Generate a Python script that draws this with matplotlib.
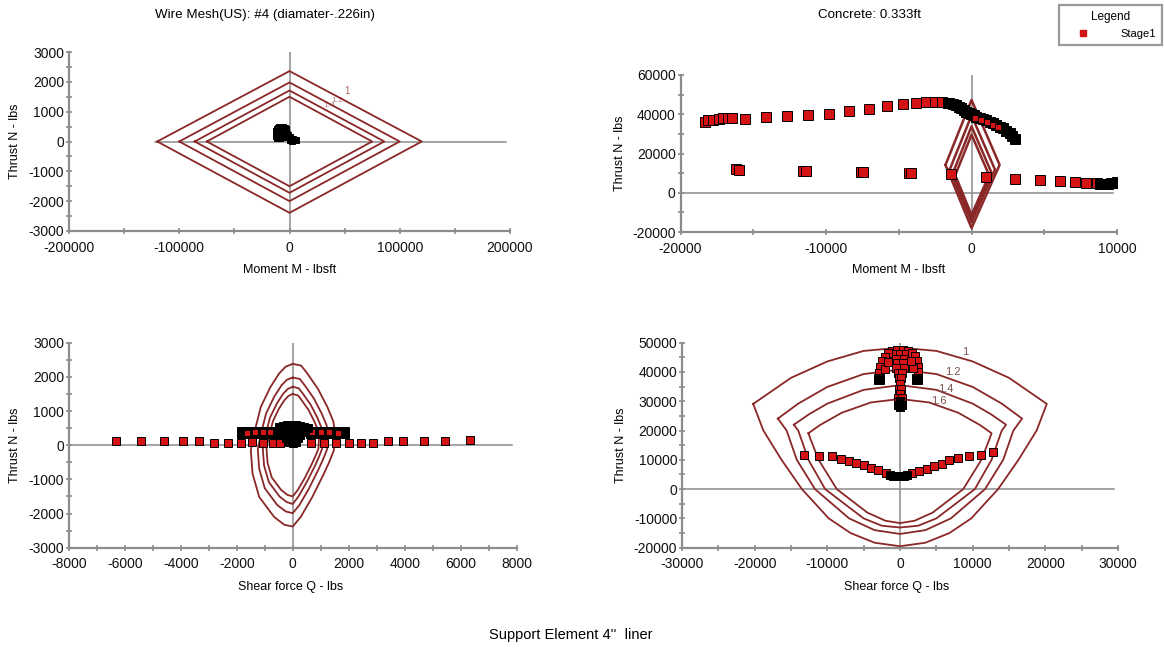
import matplotlib

matplotlib.use("Agg")
import matplotlib.pyplot as plt
from matplotlib.lines import Line2D
from matplotlib.ticker import MultipleLocator

plt.rcParams["font.family"] = ["Liberation Sans", "DejaVu Sans"]
plt.rcParams["axes.unicode_minus"] = False

W, H = 1164, 650
RED = "#d41414"
CURVE = "#8a2727"
AXIS = "#8c8c8c"

# --- wire mesh: moment vs thrust (diamonds for FS 1, 1.2, 1.4, 1.6) ---
wm_fs = ["1", "1.2", "1.4", "1.6"]
wm_m_ext = [120000, 100000, 86000, 75000]
wm_n_top = [2360, 1980, 1710, 1500]
wm_n_bot = [-2390, -2000, -1720, -1500]
wm_pts_m = [-12500, -11500, -10500, -9500, -8500, -7500, -6500, -5500, -4500, -3500,
            -12000, -10000, -8000, -6000, -4000, -2000, -1000, 0, 1500, 3000, 4500, 6000,
            -11000, -9000, -7000, -5000, -3000, -1500, 500, 2500]
wm_pts_n = [350, 420, 460, 480, 500, 500, 480, 470, 450, 420,
            200, 250, 300, 320, 300, 260, 220, 150, 100, 80, 60, 40,
            120, 130, 160, 180, 200, 150, 60, 30]

# --- concrete: moment vs thrust ---
conc_m_left = [-1790, -1500, -1280, -1120]
conc_m_right = [1930, 1610, 1380, 1210]
conc_n_vert = [14200, 11800, 10100, 8900]
conc_n_top = [47300, 39400, 33800, 29600]
conc_n_bot = [-18000, -15000, -12900, -11300]
cu_m = [-18340, -18110, -17775, -17390, -17080, -16750, -16445, -15550, -14140, -12690,
        -11230, -9800, -8410, -7030, -5800, -4730, -3840, -3150, -2510, -2000, -1610]
cu_n = [36140, 36820, 37160, 37670, 37840, 37840, 38010, 37670, 38350, 38860,
        39540, 40050, 41420, 42610, 43980, 45000, 45850, 46020, 46020, 46020, 45680]
cb_m = [-1520, -1300, -1060, -880, -710, -540, -370, -200, -20, 150, 320, 550,
        780, 1010, 1240, 1470, 1700, 1930, 2160, 2390, 2620, 2800, 2970]
cb_n = [45900, 45400, 44750, 43900, 43050, 42200, 41350, 40700, 40000, 39400, 38800, 38100,
        37450, 36850, 36250, 35400, 34550, 33700, 32900, 31700, 30350, 28800, 27300]
cr_m = [250, 650, 1050, 1450, 1850]
cr_n = [37900, 36900, 35900, 34700, 33300]
cl_m = [-16190, -16000, -11590, -11400, -7620, -7430, -4300, -4150, -1430,
        1020, 3000, 4710, 6060, 7080, 7850, 8620]
cl_n = [12100, 11800, 11250, 11250, 10740, 10740, 10060, 9900, 9540,
        8180, 6990, 6480, 5800, 5450, 4940, 4770]
ce_m = [8800, 9000, 9200, 9400, 9600, 9800, 10000]
ce_n = [4500, 4550, 4600, 4700, 4850, 5000, 5300]

# --- wire mesh: shear vs thrust ---
q1 = [0, 300, 520, 900, 1235, 1450, 1500, 1470, 1300, 1116, 700, 285, 0,
      -300, -665, -1200, -1437, -1500, -1354, -1140, -800, -487, -250, 0]
n1 = [2380, 2330, 2100, 1650, 1124, 700, 440, -150, -500, -830, -1515, -2100, -2380,
      -2330, -2100, -1515, -830, -150, 440, 1124, 1700, 2100, 2300, 2380]
q2 = [0, 250, 430, 750, 1030, 1210, 1250, 1225, 1085, 930, 585, 240, 0,
      -250, -555, -1000, -1200, -1250, -1130, -950, -665, -405, -210, 0]
n2 = [1980, 1940, 1750, 1375, 935, 585, 365, -125, -415, -690, -1260, -1750, -1990,
      -1940, -1750, -1260, -690, -125, 365, 935, 1415, 1750, 1915, 1980]
q3 = [0, 215, 370, 645, 880, 1035, 1070, 1050, 930, 800, 500, 205, 0,
      -215, -475, -855, -1025, -1070, -965, -815, -570, -350, -180, 0]
n3 = [1710, 1665, 1500, 1180, 805, 500, 315, -105, -355, -595, -1080, -1500, -1720,
      -1665, -1500, -1080, -595, -105, 315, 805, 1215, 1500, 1645, 1710]
q4 = [0, 190, 325, 565, 770, 905, 940, 920, 815, 700, 440, 180, 0,
      -190, -415, -750, -900, -940, -845, -710, -500, -305, -155, 0]
n4 = [1500, 1455, 1310, 1030, 700, 440, 275, -95, -310, -520, -945, -1310, -1500,
      -1455, -1310, -945, -520, -95, 275, 700, 1060, 1310, 1440, 1500]
sq_q = [-6330, -5410, -4610, -3940, -3350, -2800, -2330, -1850, -1450, -1080, -710, -470,
        640, 1130, 1560, 2010, 2450, 2880, 3400, 3950, 4690, 5460, 6340]
sq_n = [127, 127, 120, 127, 127, 68, 68, 78, 88, 68, 68, 68,
        68, 68, 78, 78, 68, 68, 127, 127, 127, 127, 147]
sb_q = [-1850, -1700, -1550, -1400, -1250, -1100, -950, -800, -650, -500, -350, -200, -50,
        100, 250, 400, 550, 700, 850, 1000, 1150, 1300, 1450, 1600, 1750, 1880,
        -1850, -1600, -1350, -1100, -850, -600, 600, 850, 1100, 1350, 1600, 1880]
sb_n = [430, 430, 430, 430, 430, 430, 430, 430, 430, 440, 450, 460, 470,
        470, 460, 450, 440, 430, 430, 430, 430, 430, 430, 430, 430, 430,
        330, 330, 330, 330, 330, 330, 330, 330, 330, 330, 330, 330]
sr_q = [-1650, -1350, -1050, -800, 700, 1000, 1300, 1600]
sr_n = [370, 380, 380, 390, 390, 380, 380, 370]
sc_q = [-500, -350, -200, -50, 100, 250, 400, 550, -450, -300, -150, 0, 150, 300, 450,
        -350, -200, -50, 100, 250, -250, -100, 50, 200, -150, 0, 100]
sc_n = [520, 560, 580, 590, 590, 570, 540, 500, 400, 420, 440, 450, 440, 420, 400,
        300, 320, 330, 320, 300, 200, 210, 210, 200, 90, 60, 80]

# --- concrete: shear vs thrust (arc + lower curve per FS) ---
arc1_q = [-20200, -15000, -10000, -5000, 0, 5000, 10000, 15000, 20200]
arc1_n = [29100, 38000, 43600, 47200, 48300, 47200, 43600, 38000, 29100]
low1_q = [20200, 18800, 16300, 13500, 9800, 6800, 3500, 0, -3500, -6800, -9800, -13500, -16300, -18800, -20200]
low1_n = [29100, 20000, 10000, 0, -10000, -15000, -18300, -19500, -18300, -15000, -10000, 0, 10000, 20000, 29100]
arc2_q = [-16800, -14000, -10000, -5000, 0, 5000, 10000, 14000, 16800]
arc2_n = [24100, 29200, 34900, 39300, 40800, 39300, 34900, 29200, 24100]
low2_q = [16800, 15600, 14200, 11700, 7000, 3500, 0, -3500, -7000, -11700, -14200, -15600, -16800]
low2_n = [24100, 20000, 10000, 0, -10000, -14000, -15300, -14000, -10000, 0, 10000, 20000, 24100]
arc3_q = [-14600, -12500, -10000, -5000, 0, 5000, 10000, 12500, 14600]
arc3_n = [22000, 25600, 29200, 33900, 35500, 33900, 29200, 25600, 22000]
low3_q = [14600, 14000, 12600, 10300, 5000, 2500, 0, -2500, -5000, -10300, -12600, -14000, -14600]
low3_n = [22000, 20000, 10000, 0, -10000, -12500, -13100, -12500, -10000, 0, 10000, 20000, 22000]
arc4_q = [-12600, -11000, -8000, -4000, 0, 4000, 8000, 11000, 12600]
arc4_n = [19100, 21900, 26100, 29600, 30800, 29600, 26100, 21900, 19100]
low4_q = [12600, 12300, 11200, 8700, 4500, 2000, 0, -2000, -4500, -8700, -11200, -12300, -12600]
low4_n = [19100, 17000, 10000, 0, -8000, -10800, -11600, -10800, -8000, 0, 10000, 17000, 19100]
bv_q = [-13200, -11150, -9360, -8080, -7060, -6040, -5010, -3990, -2970, -1940,
        1640, 2660, 3680, 4710, 5730, 6750, 8030, 9560, 11100, 12790]
bv_n = [11760, 11400, 11200, 10270, 9470, 8900, 8100, 7190, 6390, 5480,
        5480, 6050, 6850, 7760, 8680, 9820, 10600, 11200, 11760, 12560]
bk_q = [-1400, -1000, -600, -200, 200, 600, 1000, 0, -300, 300, 0]
bk_n = [4800, 4600, 4500, 4500, 4500, 4600, 4800, 28000, 28800, 28800, 30000]
bf_q = [-1100, -400, 400, 1100, -800, 0, 800, -600, 600, -400, 400, -500, 500, -300, 300,
        -200, 200, 0, -200, 200, 0, -300, 300, -250, 250,
        -1600, -2100, -2500, -2800, -2900, -2000, -1700,
        1600, 2000, 2300, 2500, 2500, 1800, 1500]
bf_n = [47200, 47600, 47600, 47200, 46000, 46300, 46000, 44600, 44600, 43000, 43000, 41200, 41200,
        39500, 39500, 37800, 37800, 36000, 34300, 34300, 32600, 31200, 31200, 29600, 29600,
        46400, 45200, 43600, 41800, 39800, 41000, 43500,
        46400, 45300, 43700, 41800, 40000, 41500, 43600]
bx_q = [-2950, 2300]
bx_n = [37600, 37600]


def box(left, right, top, bottom):
    return [left / W, 1 - bottom / H, (right - left) / W, (bottom - top) / H]


def frame(ax, xlim, ylim, xmaj, xmin, ymaj, ymin, hline_from=0.0):
    ax.set_xlim(*xlim)
    ax.set_ylim(*ylim)
    for side in ("top", "right"):
        ax.spines[side].set_visible(False)
    for side in ("left", "bottom"):
        ax.spines[side].set_color(AXIS)
        ax.spines[side].set_linewidth(1.6)
    ax.xaxis.set_major_locator(MultipleLocator(xmaj))
    ax.xaxis.set_minor_locator(MultipleLocator(xmin))
    ax.yaxis.set_major_locator(MultipleLocator(ymaj))
    ax.yaxis.set_minor_locator(MultipleLocator(ymin))
    ax.tick_params(which="both", direction="inout", color=AXIS, width=1.2,
                   labelsize=10, labelcolor="#111111")
    ax.tick_params(which="major", length=5)
    ax.tick_params(which="minor", length=4)
    ax.tick_params(axis="x", pad=4.5)
    ax.tick_params(axis="y", pad=1)
    ax.axhline(0, xmin=hline_from, xmax=0.99, color=AXIS, linewidth=1.1, zorder=1)
    ax.axvline(0, color=AXIS, linewidth=1.1, zorder=1)
    ax.patch.set_alpha(0)


def squares(ax, x, y, size, face=RED):
    ax.plot(x, y, "s", ms=size, mfc=face, mec="black", mew=0.7, zorder=3)


fig = plt.figure(figsize=(W / 100, H / 100), dpi=100)

# top-left
ax = fig.add_axes(box(69, 510, 52, 231))
frame(ax, (-200000, 200000), (-3000, 3000), 100000, 50000, 1000, 500, hline_from=0.195)
for m, nt, nb in zip(wm_m_ext, wm_n_top, wm_n_bot):
    ax.plot([-m, 0, m, 0, -m], [0, nt, 0, nb, 0], color=CURVE, lw=1.3)
squares(ax, wm_pts_m, wm_pts_n, 5, face="black")
ax.text(50000, 1600, wm_fs[0], color=CURVE, fontsize=7, alpha=0.7)
ax.text(38000, 1330, wm_fs[1], color=CURVE, fontsize=6, alpha=0.6)
ax.text(31000, 1170, wm_fs[2], color=CURVE, fontsize=6, alpha=0.6)

# top-right
ax = fig.add_axes(box(680.6, 1117, 75, 232))
frame(ax, (-20000, 10000), (-20000, 60000), 10000, 5000, 20000, 10000)
for ml, mr, nv, nt, nb in zip(conc_m_left, conc_m_right, conc_n_vert, conc_n_top, conc_n_bot):
    ax.plot([ml, 0, mr, 0, ml], [nv, nt, nv, nb, nv], color=CURVE, lw=1.8)
squares(ax, cu_m, cu_n, 6.5)
squares(ax, cl_m, cl_n, 6.5)
squares(ax, cb_m, cb_n, 6.5, face="black")
squares(ax, cr_m, cr_n, 5)
squares(ax, ce_m, ce_n, 6.5, face="black")

# bottom-left
ax = fig.add_axes(box(69, 516.5, 342.7, 547.7))
frame(ax, (-8000, 8000), (-3000, 3000), 2000, 1000, 1000, 500)
for q, n in ((q1, n1), (q2, n2), (q3, n3), (q4, n4)):
    ax.plot(q, n, color=CURVE, lw=1.3)
squares(ax, sq_q, sq_n, 5.5)
squares(ax, sb_q, sb_n, 5.5, face="black")
squares(ax, sr_q, sr_n, 4.5)
squares(ax, sc_q, sc_n, 5.5, face="black")

# bottom-right
ax = fig.add_axes(box(682, 1118, 342.7, 547.7))
frame(ax, (-30000, 30000), (-20000, 50000), 10000, 5000, 10000, 5000)
for aq, an, lq, ln in ((arc1_q, arc1_n, low1_q, low1_n), (arc2_q, arc2_n, low2_q, low2_n),
                       (arc3_q, arc3_n, low3_q, low3_n), (arc4_q, arc4_n, low4_q, low4_n)):
    ax.plot(aq + lq, an + ln, color=CURVE, lw=1.3)
squares(ax, bv_q, bv_n, 5.5)
squares(ax, bf_q, bf_n, 5.5)
squares(ax, bk_q, bk_n, 5.5, face="black")
squares(ax, bx_q, bx_n, 6.5, face="black")
for lbl, x, y in zip(wm_fs, [8600, 6200, 5200, 4300], [45800, 38800, 33200, 29000]):
    ax.text(x, y, lbl, color="#7a4f4f", fontsize=8)


def ftext(x, y, s, **kw):
    fig.text(x / W, 1 - y / H, s, ha="center", va="center", **kw)


ftext(265, 15, "Wire Mesh(US): #4 (diamater-.226in)", fontsize=9.6)
ftext(870, 15, "Concrete: 0.333ft", fontsize=9.6)
ftext(290, 270, "Moment M - lbsft", fontsize=9)
ftext(899, 270, "Moment M - lbsft", fontsize=9)
ftext(291, 587, "Shear force Q - lbs", fontsize=9)
ftext(897, 587, "Shear force Q - lbs", fontsize=9)
for x, y in ((15, 141), (620, 153), (15, 445), (621, 445)):
    ftext(x, y, "Thrust N - lbs", fontsize=9, rotation=90)
ftext(571, 635, "Support Element 4''  liner", fontsize=10.5)

handle = Line2D([], [], marker="s", ls="none", ms=5, mfc=RED, mec=RED)
leg = fig.legend([handle], ["Stage1"], title="Legend", loc="upper right",
                 bbox_to_anchor=(1162 / W, 1 - 5 / H), borderaxespad=0,
                 fontsize=8, title_fontsize=8.5, handlelength=3.3, handletextpad=1.7,
                 borderpad=0.55, fancybox=False, framealpha=1)
leg.get_frame().set_edgecolor("#9a9a9a")
leg.get_frame().set_linewidth(1.6)

fig.savefig("out.png", dpi=100)
